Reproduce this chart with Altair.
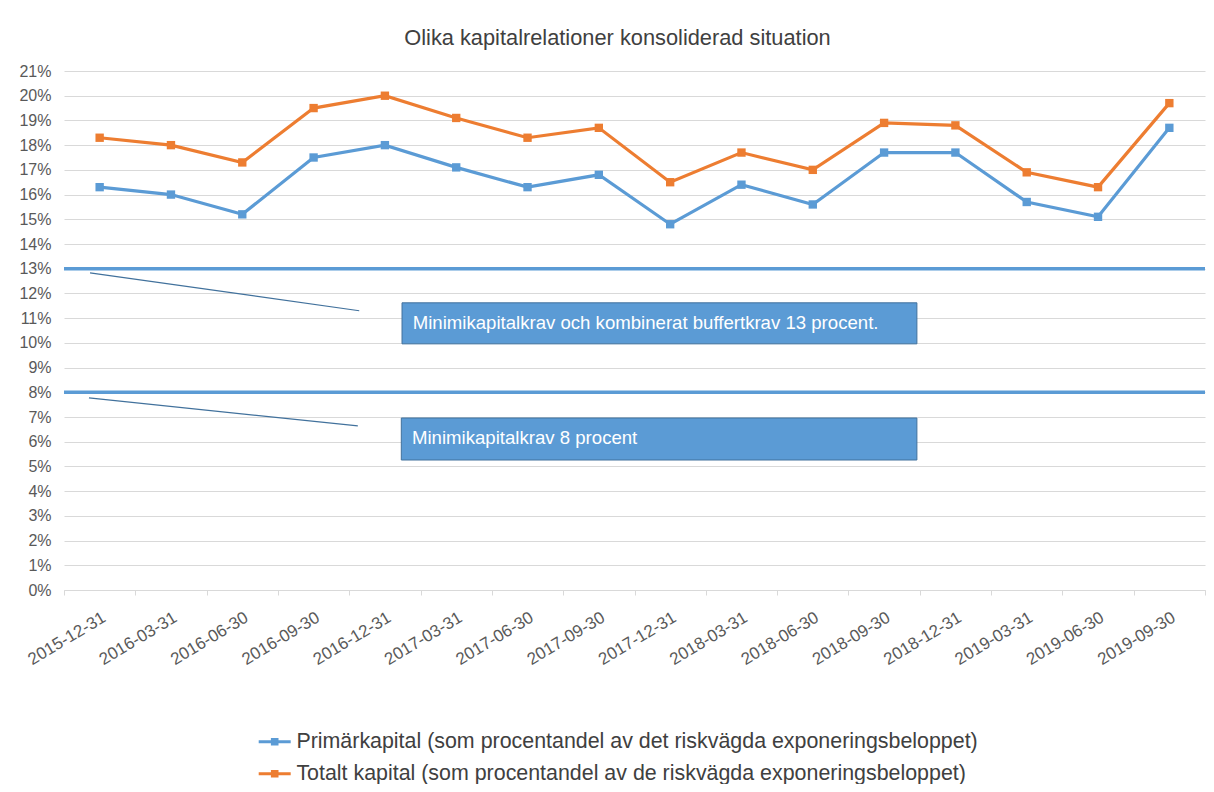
import altair as alt
import pandas as pd

# ---- data ----
dates = ["2015-12-31", "2016-03-31", "2016-06-30", "2016-09-30", "2016-12-31",
         "2017-03-31", "2017-06-30", "2017-09-30", "2017-12-31", "2018-03-31",
         "2018-06-30", "2018-09-30", "2018-12-31", "2019-03-31", "2019-06-30",
         "2019-09-30"]
primar = [16.3, 16.0, 15.2, 17.5, 18.0, 17.1, 16.3, 16.8, 14.8, 16.4,
          15.6, 17.7, 17.7, 15.7, 15.1, 18.7]
totalt = [18.3, 18.0, 17.3, 19.5, 20.0, 19.1, 18.3, 18.7, 16.5, 17.7,
          17.0, 18.9, 18.8, 16.9, 16.3, 19.7]
series_names = ["Primärkapital (som procentandel av det riskvägda exponeringsbeloppet)",
                "Totalt kapital (som procentandel av de riskvägda exponeringsbeloppet)"]
series_colors = ["#5B9BD5", "#ED7D31"]

threshold_levels = [13, 8]

# annotation boxes (x in category-index units, y in percent)
box_text = ["Minimikapitalkrav och kombinerat buffertkrav 13 procent.",
            "Minimikapitalkrav 8 procent"]
box_x0 = [4.74, 4.73]
box_x1 = [11.96, 11.96]
box_ytop = [11.62, 6.96]
box_ybot = [9.96, 5.26]
text_x = [4.89, 4.88]
text_y = [10.82, 6.16]
# callout lines
call_x0 = [0.365, 0.35]
call_y0 = [12.83, 7.77]
call_x1 = [4.14, 4.12]
call_y1 = [11.30, 6.64]

FONT = "Liberation Sans"

rows = []
for d, p, t in zip(dates, primar, totalt):
    rows.append({"date": d, "series": series_names[0], "value": p})
    rows.append({"date": d, "series": series_names[1], "value": t})
df = pd.DataFrame(rows)
thr = pd.DataFrame({"level": threshold_levels})
boxes = pd.DataFrame({"x0": box_x0, "x1": box_x1, "yt": box_ytop, "yb": box_ybot,
                      "tx": text_x, "ty": text_y, "text": box_text})
calls = pd.DataFrame({"x0": call_x0, "y0": call_y0, "x1": call_x1, "y1": call_y1})

yscale = alt.Scale(domain=[0, 21], nice=False, zero=True)
xband = alt.Scale(type="band", paddingInner=0, paddingOuter=0)
cscale = alt.Scale(domain=series_names, range=series_colors)
xq = alt.Scale(domain=[0, 16], nice=False, zero=False)

y_axis = alt.Axis(values=list(range(22)), labelExpr="datum.value + '%'",
                  labelFontSize=16, labelFont=FONT, labelColor="#595959",
                  labelPadding=13, ticks=False, domain=False, title=None,
                  gridColor="#D9D9D9", gridWidth=1)

x_enc = alt.X("date:N", sort=dates, scale=xband, title=None,
              axis=alt.Axis(labelAngle=-31, labelAlign="right", labelBaseline="top",
                            labelFontSize=17, labelColor="#595959", labelFont=FONT,
                            labelPadding=14, tickBand="extent", tickSize=5,
                            tickColor="#D9D9D9", domainColor="#D9D9D9", grid=False,
                            labelOverlap=False))
x_noaxis = alt.X("date:N", sort=dates, scale=xband, axis=None)

legend = alt.Legend(
    title=None, orient="none", legendX=200, legendY=660, direction="vertical",
    symbolType="M-1.6,-0.15H1.6V0.15H-1.6Z M-0.38,-0.38H0.38V0.38H-0.38Z",
    symbolSize=400, symbolStrokeWidth=0, symbolOpacity=1,
    labelFontSize=21.4, labelFont=FONT, labelColor="#404040",
    labelOffset=11, rowPadding=9, labelLimit=900)

lines = alt.Chart(df).mark_line(strokeWidth=3.2).encode(
    x=x_enc,
    y=alt.Y("value:Q", scale=yscale, title=None, axis=y_axis),
    color=alt.Color("series:N", sort=series_names, scale=cscale, legend=legend))

rules = alt.Chart(thr).mark_rule(color="#5B9BD5", strokeWidth=3.5).encode(
    y=alt.Y("level:Q", scale=yscale, title=None, axis=y_axis))

points = alt.Chart(df).mark_point(shape="square", filled=True, size=70, opacity=1).encode(
    x=x_noaxis,
    y=alt.Y("value:Q", scale=yscale, title=None, axis=y_axis),
    color=alt.Color("series:N", sort=series_names, scale=cscale, legend=None))

callouts = alt.Chart(calls).mark_rule(color="#41719C", strokeWidth=1.2).encode(
    x=alt.X("x0:Q", scale=xq, axis=None), x2="x1:Q",
    y=alt.Y("y0:Q", scale=yscale, title=None, axis=y_axis), y2="y1:Q")

rects = alt.Chart(boxes).mark_rect(fill="#5B9BD5", stroke="#41719C", strokeWidth=1).encode(
    x=alt.X("x0:Q", scale=xq, axis=None), x2="x1:Q",
    y=alt.Y("yt:Q", scale=yscale, title=None, axis=y_axis), y2="yb:Q")

texts = alt.Chart(boxes).mark_text(align="left", baseline="middle", color="white",
                                   fontSize=18.6, font=FONT).encode(
    x=alt.X("tx:Q", scale=xq, axis=None),
    y=alt.Y("ty:Q", scale=yscale, title=None, axis=y_axis),
    text="text:N")

chart = alt.layer(lines, rules, callouts, rects, texts, points).resolve_scale(
    x="independent").properties(
    width=1141, height=519,
    title=alt.TitleParams("Olika kapitalrelationer konsoliderad situation",
                          fontSize=21.8, font=FONT, fontWeight="normal",
                          color="#404040", offset=13, dx=-17),
    autosize=alt.AutoSizeParams(type="none"),
    padding={"left": 56, "top": 63, "right": 1, "bottom": 194},
    background="white",
).configure_view(stroke=None)

chart.save("out.html", embed_options={"renderer": "svg", "actions": False})
